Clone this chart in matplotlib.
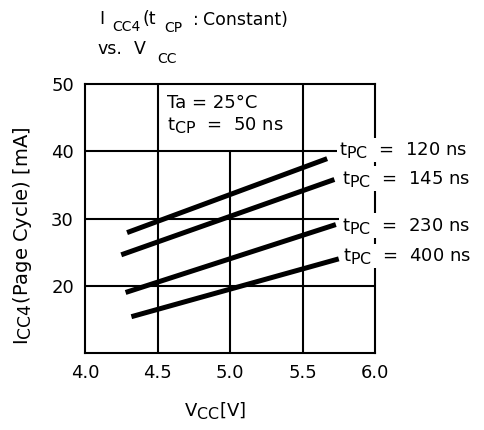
import matplotlib
matplotlib.use("Agg")
import matplotlib.pyplot as plt
import matplotlib._mathtext as _mt

_mt.SHRINK_FACTOR = 0.88

plt.rcParams['font.family'] = ['DejaVu Sans']
plt.rcParams['mathtext.fontset'] = 'custom'
plt.rcParams['mathtext.rm'] = 'DejaVu Sans'
plt.rcParams['mathtext.it'] = 'DejaVu Sans'

FS = 13

# Data
series_labels = ["120", "145", "230", "400"]
x_start = [4.29, 4.25, 4.28, 4.32]
x_end = [5.67, 5.72, 5.73, 5.75]
y_start = [27.9, 24.6, 19.0, 15.4]
y_end = [38.9, 35.8, 29.1, 24.0]
label_x = [5.755, 5.77, 5.77, 5.78]
label_y = [39.4, 35.2, 28.2, 23.7]

x_ticks = [4.0, 4.5, 5.0, 5.5, 6.0]
x_ticklabels = ["4.0", "4.5", "5.0", "5.5", "6.0"]
y_ticks = [20, 30, 40, 50]

fig = plt.figure(figsize=(4.85, 4.3), dpi=100)
ax = fig.add_axes([85/485, 77/430, 290/485, 269/430])
ax.set_xlim(4.0, 6.0)
ax.set_ylim(10, 50)

lw_grid = 1.5
# grid lines
for xv in [4.5, 5.5]:
    ax.vlines(xv, 10, 50, color='black', lw=lw_grid, zorder=1)
ax.vlines(5.0, 10, 40, color='black', lw=lw_grid, zorder=1)
for yv in [20, 30, 40]:
    ax.hlines(yv, 4.0, 6.0, color='black', lw=lw_grid, zorder=1)

for i in range(len(series_labels)):
    ax.plot([x_start[i], x_end[i]], [y_start[i], y_end[i]], color='black',
            lw=3.6, solid_capstyle='butt', zorder=2)
    ax.text(label_x[i], label_y[i], r"t$_{\rm PC}$  =  " + series_labels[i] + " ns",
            fontsize=FS, va='baseline', ha='left', zorder=4,
            bbox=dict(facecolor='white', edgecolor='none', pad=1.5))

ax.text(4.565, 46.5, "Ta = 25°C", fontsize=FS, va='baseline', ha='left')
ax.text(4.565, 43.2, r"t$_{\rm CP}$  =  50 ns", fontsize=FS, va='baseline', ha='left')

for s in ax.spines.values():
    s.set_linewidth(lw_grid)

ax.set_xticks(x_ticks)
ax.set_xticklabels(x_ticklabels)
ax.set_yticks(y_ticks)
ax.tick_params(length=0, labelsize=FS, pad=8)

fig.text(215/485, 1 - 416/430, r"V$_{\rm CC}$[V]", fontsize=FS, ha='center', va='baseline')
fig.text(28/485, 1 - 236/430, r"I$_{\rm CC4}$(Page Cycle) [mA]", fontsize=14,
         rotation=90, rotation_mode='anchor', ha='center', va='baseline')

# title pieces (main text and lowered subscripts): text, x px, baseline px, size
title_pieces = [("I", 99, 24, 12.5), ("CC4", 112, 31, 10), ("(t", 143, 24, 12.5),
                ("CP", 164, 32, 10), (":", 193, 25, 12.5), ("Constant)", 203, 25, 12.5),
                ("vs.", 97, 54, 12.5), ("V", 134, 54, 12.5), ("CC", 157, 63, 10)]
for txt, px, py, fs in title_pieces:
    fig.text(px/485, 1 - py/430, txt, fontsize=fs, va='baseline', ha='left')

fig.savefig("out.png", dpi=100)
